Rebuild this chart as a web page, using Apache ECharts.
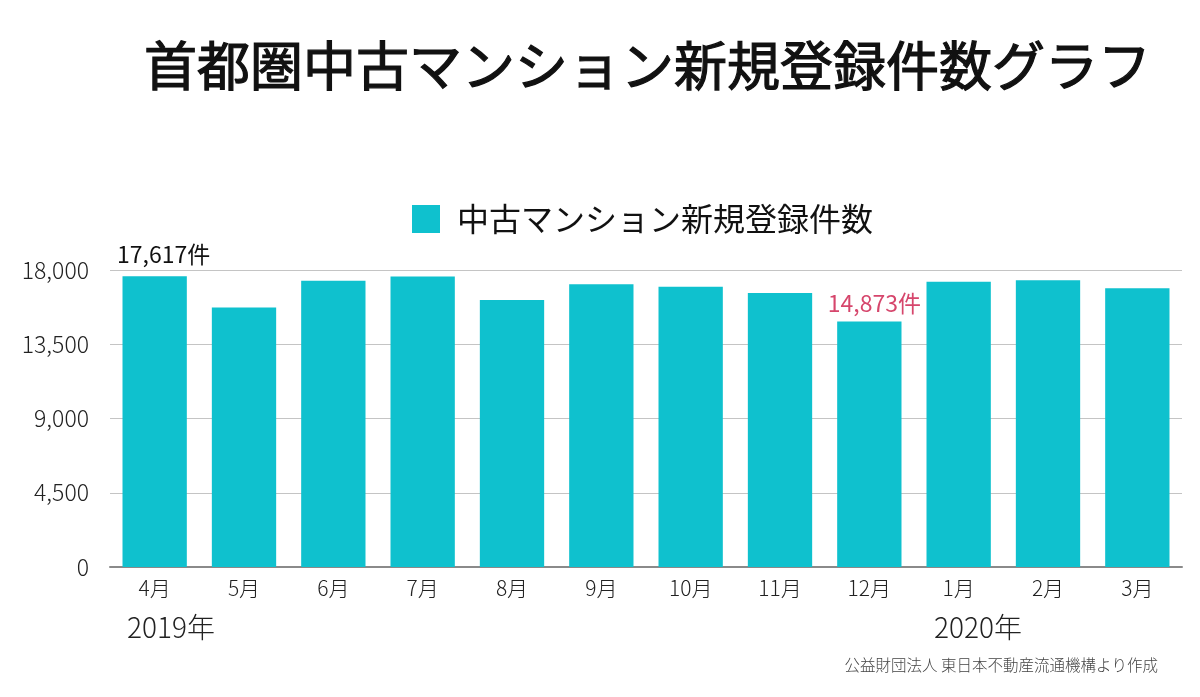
<!DOCTYPE html>
<html>
<head>
<meta charset="utf-8">
<script src="https://cdn.jsdelivr.net/npm/echarts@6/dist/echarts.min.js"></script>
<style>
html,body{margin:0;padding:0;background:#fff;}
#c{width:1200px;height:697px;}
</style>
</head>
<body>
<div id="c"></div>
<script>
const months = ['4月','5月','6月','7月','8月','9月','10月','11月','12月','1月','2月','3月'];
const counts = [17617, 15720, 17354, 17600, 16184, 17140, 16991, 16608, 14873, 17294, 17374, 16890];
const seriesName = '中古マンション新規登録件数';
const titleText = '首都圏中古マンション新規登録件数グラフ';
const yearLabels = ['2019年', '2020年'];
const sourceText = '公益財団法人 東日本不動産流通機構より作成';
const highlightMax = 0;
const highlightMin = 8;

const FONT = '"Noto Sans CJK JP", "Noto Sans", sans-serif';
const chart = echarts.init(document.getElementById('c'));

const fmt = v => v.toLocaleString('en-US') + '件';
const data = counts.map((v, i) => {
  const item = { value: v };
  if (i === highlightMax) {
    item.label = { show: true, position: 'top', distance: 11, offset: [9, 0], color: '#111', fontSize: 23, fontFamily: FONT, formatter: p => fmt(p.value) };
  } else if (i === highlightMin) {
    item.label = { show: true, position: 'top', distance: 7, offset: [5, 0], color: '#d6466c', fontSize: 23, fontFamily: FONT, formatter: p => fmt(p.value) };
  }
  return item;
});

chart.setOption({
  animation: false,
  title: {
    text: titleText,
    left: 139, top: 34,
    textStyle: { fontFamily: FONT, fontSize: 53, fontWeight: 'normal', color: '#111', textBorderColor: '#111', textBorderWidth: 1.2 }
  },
  legend: {
    data: [seriesName],
    left: 407, top: 198,
    itemWidth: 28, itemHeight: 28,
    icon: 'rect',
    textStyle: { fontFamily: FONT, fontSize: 32, color: '#111', padding: [0, 0, 0, 12] }
  },
  grid: { left: 110, right: 18, top: 270, bottom: 130 },
  xAxis: {
    type: 'category',
    data: months,
    axisLine: { lineStyle: { color: '#8a8a8a', width: 2 } },
    axisTick: { show: false },
    axisLabel: { fontFamily: FONT, fontSize: 21, color: '#222', fontWeight: 300, margin: 11 }
  },
  yAxis: {
    type: 'value',
    min: 0, max: 18000, interval: 4500,
    axisLine: { show: false },
    axisTick: { show: false },
    splitLine: { lineStyle: { color: '#c4c4c4', width: 1 } },
    axisLabel: {
      fontFamily: FONT, fontSize: 23, color: '#222', fontWeight: 300, margin: 21,
      formatter: v => v.toLocaleString('en-US')
    }
  },
  series: [{
    name: seriesName,
    type: 'bar',
    data: data,
    barCategoryGap: '28%',
    itemStyle: { color: '#0fc1ce' }
  }],
  graphic: [
    { type: 'text', left: 127, top: 613, style: { text: yearLabels[0], fontFamily: FONT, fontSize: 28, fontWeight: 300, fill: '#222' } },
    { type: 'text', left: 934, top: 613, style: { text: yearLabels[1], fontFamily: FONT, fontSize: 28, fontWeight: 300, fill: '#222' } },
    { type: 'text', right: 42, top: 657, style: { text: sourceText, fontFamily: FONT, fontSize: 15.5, fontWeight: 300, fill: '#444' } }
  ]
});
</script>
</body>
</html>
